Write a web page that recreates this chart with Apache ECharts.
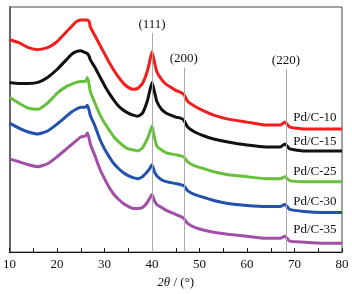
<!DOCTYPE html>
<html>
<head>
<meta charset="utf-8">
<script src="https://cdn.jsdelivr.net/npm/echarts@6/dist/echarts.min.js"></script>
<style>
  html, body { margin: 0; padding: 0; background: #fff; }
  #chart { width: 352px; height: 294px; }
</style>
</head>
<body>
<div id="chart"></div>
<script>
  // 2theta positions (deg)
  var twoTheta = [10, 12, 14, 16, 18, 20, 22, 23, 24, 25, 26, 26.4, 26.8, 27, 28, 29, 30, 31, 32, 33,
    34, 35, 36, 37, 38, 39, 39.5, 40, 40.5, 41, 42, 43, 44, 45, 46, 46.7, 47.5, 49, 51, 53,
    56, 60, 64, 67, 68, 69, 72, 76, 80]

  // intensity (a.u., offset stacked)
  var pdc10 = [214, 211, 206, 204, 206, 212, 222, 227, 232, 234, 234, 234, 232, 227, 218, 209, 200, 191, 183, 176,
    170, 166, 164, 165, 170, 182, 192, 202, 192, 182, 174, 169, 166, 163, 161, 159, 152, 147, 142, 138,
    134, 131, 128, 128, 131, 126, 124, 124, 124]
  var pdc15 = [171, 170, 170, 171, 176, 184, 194, 199, 202, 203, 201, 200, 197, 194, 186, 177, 168, 160, 153, 147,
    143, 140, 138, 137, 140, 152, 162, 171, 162, 152, 144, 140, 138, 136, 135, 133, 126, 121, 117, 114,
    111, 108, 106, 106, 109, 104, 102, 102, 102]
  var pdc25 = [156, 150, 145, 144, 150, 160, 167, 169, 171, 172, 172, 176, 168, 162, 150, 139, 130, 123, 116, 111,
    107, 104, 103, 102, 105, 114, 120, 127, 116, 107, 103, 100, 99, 98, 97, 96, 91, 87, 84, 81,
    78, 76, 74, 74, 76, 72, 71, 71, 71]
  var pdc30 = [130, 125, 121, 119, 122, 129, 137, 141, 144, 146, 146, 148, 142, 138, 127, 114, 104, 96, 89, 84,
    80, 77, 75, 74, 76, 81, 84, 88, 81, 77, 73, 71, 70, 69, 68, 67, 62, 58, 55, 52,
    49, 47, 46, 46, 48, 43, 41, 40, 40]
  var pdc35 = [94, 91, 88, 86, 89, 96, 104, 108, 112, 116, 117, 120, 114, 109, 97, 84, 74, 65, 58, 53,
    49, 46, 44, 44, 45, 50, 54, 58, 52, 48, 45, 42, 40, 38, 36, 34, 29, 25, 22, 20,
    18, 16, 14, 14, 16, 11, 10, 9, 9]

  var names = ['Pd/C-10', 'Pd/C-15', 'Pd/C-25', 'Pd/C-30', 'Pd/C-35']
  var colors = ['#f21d1d', '#111111', '#66c03c', '#2152ad', '#a24fa8']
  var labelY = [136, 111, 81, 51, 23]
  var labelX = 74.3

  // reflections: position, top of the line, label
  var peakPos = [40, 46.7, 68.2]
  var peakTop = [221, 186, 184]
  var peakName = ['(111)', '(200)', '(220)']

  var serif = '"Liberation Serif", "DejaVu Serif", serif'
  var chart = echarts.init(document.getElementById('chart'))

  var allData = [pdc10, pdc15, pdc25, pdc30, pdc35]
  var series = allData.map(function (arr, i) {
    var s = {
      name: names[i],
      type: 'line',
      showSymbol: false,
      smooth: 0.15,
      data: twoTheta.map(function (x, j) { return [x, arr[j]] }),
      lineStyle: { color: colors[i], width: 3 },
      itemStyle: { color: colors[i] },
      z: 2,
      markPoint: {
        symbol: 'circle',
        symbolSize: 0,
        data: [{ coord: [labelX, labelY[i]], value: names[i] }],
        label: { show: true, position: 'inside', color: '#111', fontFamily: serif, fontSize: 13, formatter: names[i] }
      }
    }
    if (i === 0) {
      s.markLine = {
        silent: true,
        symbol: 'none',
        lineStyle: { color: '#aaaaaa', width: 1, type: 'solid' },
        label: { show: true, position: 'start', color: '#111', fontFamily: serif, fontSize: 13, distance: 2, formatter: '{b}' },
        data: peakPos.map(function (p, k) {
          return [{ coord: [p, peakTop[k]], name: peakName[k] }, { coord: [p, 0] }]
        })
      }
    }
    return s
  })

  chart.setOption({
    animation: false,
    grid: {
      left: 9, right: 10, top: 7, bottom: 40,
      show: true, borderColor: '#444', borderWidth: 1
    },
    xAxis: {
      type: 'value',
      min: 10, max: 80, interval: 10,
      name: '{i|2θ} / (°)',
      nameLocation: 'middle',
      nameGap: 23,
      nameTextStyle: {
        color: '#111', fontFamily: serif, fontSize: 13,
        rich: { i: { fontStyle: 'italic', fontFamily: serif, fontSize: 13, color: '#111' } }
      },
      axisLine: { lineStyle: { color: '#111', width: 1 } },
      axisTick: { inside: true, length: 4, lineStyle: { color: '#111' } },
      minorTick: { show: true, splitNumber: 2, length: 4, lineStyle: { color: '#111' } },
      axisLabel: { color: '#111', fontFamily: serif, fontSize: 13, margin: 6 },
      splitLine: { show: false }
    },
    yAxis: {
      type: 'value',
      min: 0, max: 247,
      axisLine: { show: true, lineStyle: { color: '#666', width: 2 } },
      axisTick: { show: false },
      axisLabel: { show: false },
      splitLine: { show: false }
    },
    series: series
  })
</script>
</body>
</html>
